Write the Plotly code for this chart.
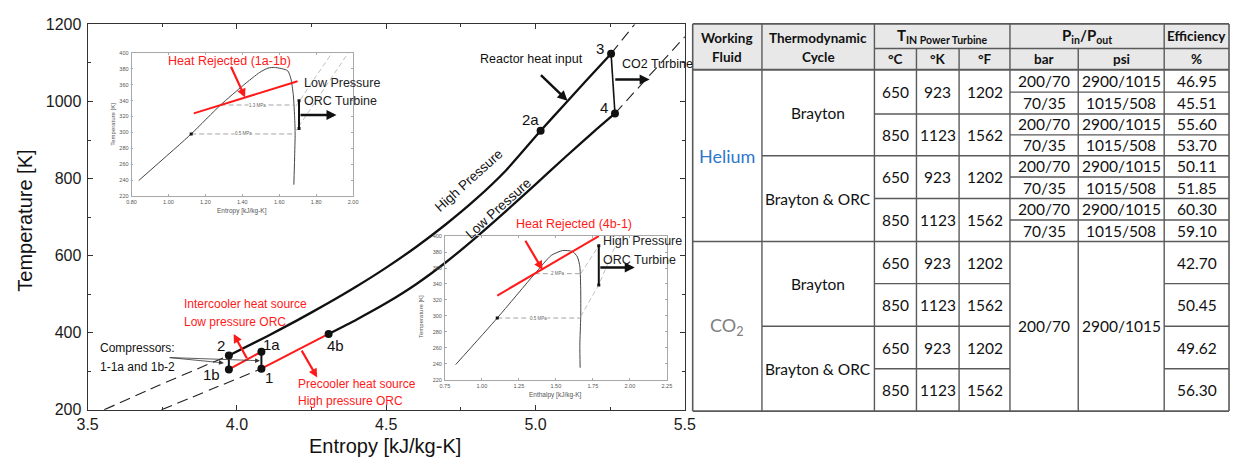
import plotly.graph_objects as go

W, H = 1241, 468
def PX(px): return px / W
def PY(py): return 1 - py / H

# ---------------- main T-s diagram data ----------------
high_s = [3.973, 4.10, 4.20, 4.30, 4.40, 4.50, 4.60, 4.70, 4.80, 4.90, 5.017, 5.10, 5.17, 5.253]
high_T = [341, 390.5, 431.5, 474.5, 520, 569, 622.5, 681.5, 746.5, 820.5, 924, 995, 1054.5, 1124]
low_s = [4.307, 4.40, 4.50, 4.60, 4.70, 4.80, 4.90, 5.00, 5.10, 5.20, 5.266]
low_T = [397, 434, 477, 526, 583, 647, 715, 785, 856, 925, 969]
hp_lo_s = [3.555, 3.737, 3.973]
hp_lo_T = [200, 263, 341]
hp_hi_s = [5.253, 5.340]
hp_hi_T = [1124, 1208]
lp_lo_s = [3.747, 3.910, 4.082]
lp_lo_T = [200, 252, 306.7]
lp_hi_s = [5.266, 5.500]
lp_hi_T = [969, 1168]
state_labels = ["1", "1a", "1b", "2", "2a", "3", "4", "4b"]
state_s = [4.082, 4.082, 3.973, 3.973, 5.017, 5.253, 5.266, 4.307]
state_T = [306.7, 350.8, 305.0, 341.0, 924.0, 1124.0, 969.0, 397.0]

# ---------------- inset 1 (low pressure ORC) ----------------
dome1_s = [0.839, 1.123, 1.282, 1.406, 1.495, 1.539, 1.575, 1.645, 1.663, 1.676, 1.684, 1.686, 1.683, 1.679]
dome1_T = [239.4, 298.0, 334.5, 359.5, 375.7, 381.0, 381.8, 377.8, 367.6, 347.4, 315.0, 298.9, 266.5, 234.1]
iso1_names = ["1.3 MPa", "0.5 MPa"]
iso1_s0 = [1.282, 1.123]
iso1_s1 = [1.681, 1.686]
iso1_T = [334.5, 298.0]
diag1_a_s = [1.681, 1.973]
diag1_a_T = [299, 400]
diag1_b_s = [1.690, 1.885]
diag1_b_T = [333, 400]
turb1_s = [1.707, 1.707]
turb1_T = [340, 305]
red1_s = [1.137, 1.699]
red1_T = [324, 364.4]

# ---------------- inset 2 (high pressure ORC) ----------------
dome2_s = [0.823, 1.104, 1.358, 1.469, 1.546, 1.613, 1.646, 1.662, 1.668, 1.668, 1.662, 1.664]
dome2_T = [238.9, 297.3, 352.9, 375.8, 381.9, 380.7, 373.8, 361.7, 331.5, 299.3, 263.0, 235.0]
iso2_names = ["2 MPa", "0.5 MPa"]
iso2_s0 = [1.358, 1.104]
iso2_s1 = [1.668, 1.668]
iso2_T = [352.9, 297.3]
diag2_a_s = [1.668, 1.790]
diag2_a_T = [352.9, 388]
diag2_b_s = [1.668, 1.790, 1.930]
diag2_b_T = [299.3, 339, 400]
turb2_s = [1.790, 1.790]
turb2_T = [388, 338.8]
red2_s = [1.104, 1.790]
red2_T = [325.5, 400]

# ---------------- table data ----------------
fluids = ["Helium", "CO<sub>2</sub>"]
fluid_colors = ["#2e78cc", "#808080"]
cycles = ["Brayton", "Brayton &amp; ORC", "Brayton", "Brayton &amp; ORC"]
t_c = [650, 850, 650, 850, 650, 850, 650, 850]
t_k = [923, 1123, 923, 1123, 923, 1123, 923, 1123]
t_f = [1202, 1562, 1202, 1562, 1202, 1562, 1202, 1562]
he_bar = ["200/70", "70/35", "200/70", "70/35", "200/70", "70/35", "200/70", "70/35"]
he_psi = ["2900/1015", "1015/508", "2900/1015", "1015/508", "2900/1015", "1015/508", "2900/1015", "1015/508"]
he_eff = ["46.95", "45.51", "55.60", "53.70", "50.11", "51.85", "60.30", "59.10"]
co2_bar = "200/70"
co2_psi = "2900/1015"
co2_eff = ["42.70", "50.45", "49.62", "56.30"]
header_top = ["<b>Working</b>", "<b>Thermodynamic</b>", "<b>T<sub>IN Power Turbine</sub></b>",
              "<b>P<sub>in</sub>/P<sub>out</sub></b>", "<b>Efficiency</b>"]
header_bottom = ["<b>Fluid</b>", "<b>Cycle</b>", "<b>°C</b>", "<b>°K</b>", "<b>°F</b>",
                 "<b>bar</b>", "<b>psi</b>", "<b>%</b>"]

# =====================================================================
fig = go.Figure()
BLACK = "#111111"
RED = "#ff1a1a"
FONT = "Liberation Sans, Arial, sans-serif"
TFONT = "Lato, Open Sans, sans-serif"

st = {n: (s, t) for n, s, t in zip(state_labels, state_s, state_T)}

def seg(a, b, color, width, xa="x", ya="y"):
    fig.add_trace(go.Scatter(x=[st[a][0], st[b][0]], y=[st[a][1], st[b][1]], mode="lines",
                             line=dict(color=color, width=width), xaxis=xa, yaxis=ya,
                             hoverinfo="skip", showlegend=False))

def line(xs, ys, color, width, dash=None, xa="x", ya="y", shape="linear"):
    fig.add_trace(go.Scatter(x=xs, y=ys, mode="lines",
                             line=dict(color=color, width=width, dash=dash, shape=shape, smoothing=0.6),
                             xaxis=xa, yaxis=ya, hoverinfo="skip", showlegend=False))

# dashed isobar extensions
for xs, ys in [(hp_lo_s, hp_lo_T), (hp_hi_s, hp_hi_T), (lp_lo_s, lp_lo_T), (lp_hi_s, lp_hi_T)]:
    line(xs, ys, "#222222", 1.1, dash="11px,6px", shape="spline")
# solid isobars
line(high_s, high_T, BLACK, 2.3, shape="spline")
line(low_s, low_T, BLACK, 2.3, shape="spline")
# process segments
seg("1b", "2", BLACK, 2.0)
seg("1", "1a", BLACK, 2.0)
seg("3", "4", BLACK, 1.6)
seg("1b", "1a", RED, 2.0)
seg("1", "4b", RED, 2.0)
fig.add_trace(go.Scatter(x=state_s, y=state_T, mode="markers",
                         marker=dict(color=BLACK, size=8), hoverinfo="skip", showlegend=False))

# inset 1
line(dome1_s, dome1_T, "#444444", 1.0, xa="x2", ya="y2", shape="spline")
for s0, s1, t in zip(iso1_s0, iso1_s1, iso1_T):
    line([s0, s1], [t, t], "#9a9a9a", 0.9, dash="5px,3px", xa="x2", ya="y2")
line(diag1_a_s, diag1_a_T, "#b0b0b0", 0.8, dash="5px,3px", xa="x2", ya="y2")
line(diag1_b_s, diag1_b_T, "#b0b0b0", 0.8, dash="5px,3px", xa="x2", ya="y2")
line(turb1_s, turb1_T, BLACK, 2.0, xa="x2", ya="y2")
fig.add_trace(go.Scatter(x=turb1_s + [iso1_s0[1]], y=turb1_T + [iso1_T[1]], mode="markers",
                         marker=dict(color=BLACK, size=3, symbol="square"), xaxis="x2", yaxis="y2",
                         hoverinfo="skip", showlegend=False))
line(red1_s, red1_T, RED, 2.0, xa="x2", ya="y2")

# inset 2
line(dome2_s, dome2_T, "#444444", 1.0, xa="x3", ya="y3", shape="spline")
for s0, s1, t in zip(iso2_s0, iso2_s1, iso2_T):
    line([s0, s1], [t, t], "#9a9a9a", 0.9, dash="5px,3px", xa="x3", ya="y3")
line(diag2_a_s, diag2_a_T, "#b0b0b0", 0.8, dash="5px,3px", xa="x3", ya="y3")
line(diag2_b_s, diag2_b_T, "#b0b0b0", 0.8, dash="5px,3px", xa="x3", ya="y3")
line(turb2_s, turb2_T, BLACK, 2.0, xa="x3", ya="y3")
fig.add_trace(go.Scatter(x=turb2_s + [iso2_s0[1]], y=turb2_T + [iso2_T[1]], mode="markers",
                         marker=dict(color=BLACK, size=3, symbol="square"), xaxis="x3", yaxis="y3",
                         hoverinfo="skip", showlegend=False))
line(red2_s, red2_T, RED, 2.0, xa="x3", ya="y3")

ann = []
def arrow(head, tail, color, width, xr="x", yr="y", size=1.0, head_style=2):
    ann.append(dict(x=head[0], y=head[1], ax=tail[0], ay=tail[1], xref=xr, yref=yr,
                    axref=xr, ayref=yr, text="", showarrow=True, arrowhead=head_style,
                    arrowsize=size, arrowwidth=width, arrowcolor=color, standoff=0, startstandoff=0))

def text(px, py, t, size=12, color=BLACK, xanchor="center", angle=0, family=FONT, bg=None):
    d = dict(x=PX(px), y=PY(py), xref="paper", yref="paper", text=t, showarrow=False,
             xanchor=xanchor, yanchor="middle", textangle=angle, borderpad=0,
             font=dict(family=family, size=size, color=color))
    if bg:
        d["bgcolor"] = bg
    ann.append(d)

# state point labels (offset in pixels)
label_shift = {"1": (8, -9), "1a": (10, 7), "1b": (-17, -5), "2": (-8, 10),
               "2a": (-10, 11), "3": (-11, 5), "4": (-11, 6), "4b": (7, -12)}
for n, s, t in zip(state_labels, state_s, state_T):
    dx, dy = label_shift[n]
    ann.append(dict(x=s, y=t, xref="x", yref="y", text=n, showarrow=False, xshift=dx, yshift=dy,
                    font=dict(family=FONT, size=15, color=BLACK)))

# main arrows
arrow((5.107, 1002), (5.013, 1072), BLACK, 2.5, size=0.8)
arrow((5.382, 1057), (5.262, 1057), BLACK, 2.5, size=0.8)
arrow((3.989, 397), (4.036, 330), RED, 2.2, size=0.8)
arrow((4.269, 284), (4.214, 357.5), RED, 2.2, size=0.8)
arrow((3.956, 321.8), (3.770, 335.8), "#333333", 0.8, size=1.2)
arrow((4.077, 327.5), (3.770, 335.8), "#333333", 0.8, size=1.2)
# inset arrows
arrow((1.415, 344), (1.335, 384.6), RED, 2.2, xr="x2", yr="y2", size=0.8)
arrow((1.91, 322), (1.707, 322), BLACK, 2.5, xr="x2", yr="y2", size=0.8)
arrow((1.41, 357.7), (1.288, 396), RED, 2.2, xr="x3", yr="y3", size=0.8)
arrow((2.033, 360.5), (1.79, 360.5), BLACK, 2.5, xr="x3", yr="y3", size=0.8)

# main texts
text(530, 53, "Reactor heat input", 12.5)
text(621, 58, "CO2 Turbine", 12.5, xanchor="left")
text(466, 179, "High Pressure", 13.5, angle=-42)
text(496, 208, "Low Pressure", 13.5, angle=-42)
text(175, 307, "Intercooler heat source", 12, RED, xanchor="left")
text(175, 326, "Low pressure ORC", 12, RED, xanchor="left")
text(90, 353, "Compressors:", 12, xanchor="left")
text(90, 373, "1-1a and 1b-2", 12, xanchor="left")
text(291, 390, "Precooler heat source", 12, RED, xanchor="left")
text(291, 408, "High pressure ORC", 12, RED, xanchor="left")
text(381, 455, "Entropy [kJ/kg-K]", 20)
text(14, 221, "Temperature [K]", 20, angle=-90)

# inset 1 texts
text(222, 55, "Heat Rejected (1a-1b)", 12.5, RED)
text(297, 78, "Low Pressure", 12.5, "#222222", xanchor="left")
text(297, 97, "ORC Turbine", 12.5, "#222222", xanchor="left")
text(103, 121, "Temperature [K]", 6, "#555555", angle=-90)
text(235, 211, "Entropy [kJ/kg-K]", 6.5, "#555555")
for nm, s0, s1, t in zip(iso1_names, iso1_s0, iso1_s1, iso1_T):
    ann.append(dict(x=(s0 + s1) / 2, y=t, xref="x2", yref="y2", text=nm, showarrow=False,
                    bgcolor="white", borderpad=0, font=dict(family=FONT, size=4.5, color="#666")))
# inset 2 texts
text(573, 224, "Heat Rejected (4b-1)", 12.5, RED)
text(602, 242, "High Pressure", 12.5, "#222222", xanchor="left")
text(602, 261, "ORC Turbine", 12.5, "#222222", xanchor="left")
text(418, 320, "Temperature [K]", 6, "#555555", angle=-90)
text(554, 402, "Enthalpy [kJ/kg-K]", 6.5, "#555555")
for nm, s0, s1, t in zip(iso2_names, iso2_s0, iso2_s1, iso2_T):
    ann.append(dict(x=(s0 + s1) / 2, y=t, xref="x3", yref="y3", text=nm, showarrow=False,
                    bgcolor="white", borderpad=0, font=dict(family=FONT, size=4.5, color="#666")))

# ---------------- table ----------------
shapes = []
LC = "#5a5a5a"
cols = [694, 764.5, 879, 921.8, 965.2, 1017, 1086.5, 1174, 1240]
top, hmid, hbot, bot = 16.5, 42, 64, 418.3
he_rows = [64, 87.3, 110, 131.7, 153.3, 175.3, 197.7, 220, 242.3]
co_rows = [242.3, 286, 330.3, 374.3, 418.3]

def hl(x0, x1, y, w=1.4):
    shapes.append(dict(type="line", xref="paper", yref="paper", x0=PX(x0), x1=PX(x1),
                       y0=PY(y), y1=PY(y), line=dict(color=LC, width=w)))
def vl(x, y0, y1, w=1.4):
    shapes.append(dict(type="line", xref="paper", yref="paper", x0=PX(x), x1=PX(x),
                       y0=PY(y0), y1=PY(y1), line=dict(color=LC, width=w)))

shapes.append(dict(type="rect", xref="paper", yref="paper", x0=PX(cols[0]), x1=PX(cols[-1]),
                   y0=PY(hbot), y1=PY(top), fillcolor="#e8e8e8", line=dict(width=0), layer="below"))
hl(cols[0], cols[-1], top, 1.8)
hl(cols[2], cols[-1], hmid)
hl(cols[0], cols[-1], hbot, 2.0)
hl(cols[0], cols[-1], bot, 1.8)
hl(cols[0], cols[-1], he_rows[-1], 1.6)
for c in [cols[0], cols[1], cols[2], cols[5], cols[7], cols[-1]]:
    vl(c, top, bot, 1.6 if c in (cols[0], cols[-1]) else 1.4)
for c in [cols[3], cols[4], cols[6]]:
    vl(c, hmid, bot)
# helium internal lines
for i, y in enumerate(he_rows[1:-1], start=1):
    if i == 4:
        hl(cols[1], cols[-1], y)
    elif i % 2 == 0:
        hl(cols[2], cols[-1], y)
    else:
        hl(cols[5], cols[-1], y)
# co2 internal lines
for i, y in enumerate(co_rows[1:-1], start=1):
    hl(cols[1] if i == 2 else cols[2], cols[5], y)
    hl(cols[7], cols[-1], y)

def cx(i): return (cols[i] + cols[i + 1]) / 2
def mid(a, b): return (a + b) / 2

# header text
text(cx(0), 31.5, header_top[0], 13.5, family=TFONT)
text(cx(1), 31.5, header_top[1], 13.5, family=TFONT)
text((cols[2] + cols[5]) / 2, 29.5, header_top[2], 15, family=TFONT)
text((cols[5] + cols[7]) / 2, 29.5, header_top[3], 15, family=TFONT)
text(cx(7), 29.5, header_top[4], 13.5, family=TFONT)
text(cx(0), 51, header_bottom[0], 13.5, family=TFONT)
text(cx(1), 51, header_bottom[1], 13.5, family=TFONT)
for j, h in enumerate(header_bottom[2:]):
    text(cx(2 + j), 53, h, 13.5, family=TFONT)

DS = 15.5
# helium block
text(cx(0), mid(he_rows[0], he_rows[-1]), fluids[0], 18, fluid_colors[0], family=TFONT)
text(cx(1), mid(he_rows[0], he_rows[4]), cycles[0], DS, family=TFONT)
text(cx(1), mid(he_rows[4], he_rows[8]), cycles[1], DS, family=TFONT)
for k in range(4):
    yc = mid(he_rows[2 * k], he_rows[2 * k + 2])
    text(cx(2), yc, str(t_c[k]), DS, family=TFONT)
    text(cx(3), yc, str(t_k[k]), DS, family=TFONT)
    text(cx(4), yc, str(t_f[k]), DS, family=TFONT)
for r in range(8):
    yc = mid(he_rows[r], he_rows[r + 1])
    text(cx(5), yc, he_bar[r], DS, family=TFONT)
    text(cx(6), yc, he_psi[r], DS, family=TFONT)
    text(cx(7), yc, he_eff[r], DS, family=TFONT)
# co2 block
text(cx(0), mid(co_rows[0], co_rows[-1]), fluids[1], 18, fluid_colors[1], family=TFONT)
text(cx(1), mid(co_rows[0], co_rows[2]), cycles[2], DS, family=TFONT)
text(cx(1), mid(co_rows[2], co_rows[4]), cycles[3], DS, family=TFONT)
text(cx(5), mid(co_rows[0], co_rows[-1]), co2_bar, DS, family=TFONT)
text(cx(6), mid(co_rows[0], co_rows[-1]), co2_psi, DS, family=TFONT)
for r in range(4):
    yc = mid(co_rows[r], co_rows[r + 1])
    text(cx(2), yc, str(t_c[4 + r]), DS, family=TFONT)
    text(cx(3), yc, str(t_k[4 + r]), DS, family=TFONT)
    text(cx(4), yc, str(t_f[4 + r]), DS, family=TFONT)
    text(cx(7), yc, co2_eff[r], DS, family=TFONT)

# ---------------- axes ----------------
main_ax = dict(showgrid=False, zeroline=False, showline=True, linecolor="#333333", linewidth=1,
               mirror="ticks", ticks="inside", ticklen=5, tickcolor="#333333",
               tickfont=dict(family=FONT, size=16, color="#1a1a1a"))
inset_ax = dict(showgrid=False, zeroline=False, showline=True, linecolor="#a8a8a8", linewidth=0.8,
                mirror="ticks", ticks="inside", ticklen=2, tickcolor="#a8a8a8",
                tickfont=dict(family=FONT, size=5.5, color="#555555"), ticklabelstandoff=1)

fig.update_layout(
    width=W, height=H, autosize=False, margin=dict(l=0, r=0, t=0, b=0),
    paper_bgcolor="white", plot_bgcolor="rgba(0,0,0,0)", showlegend=False,
    xaxis=dict(main_ax, domain=[PX(78), PX(686)], range=[3.5, 5.5],
               tickvals=[3.5, 4.0, 4.5, 5.0, 5.5], ticktext=["3.5", "4.0", "4.5", "5.0", "5.5"],
               minor=dict(dtick=0.25, tick0=3.5, ticks="inside", ticklen=3, tickcolor="#333333"),
               anchor="y"),
    yaxis=dict(main_ax, domain=[PY(417), PY(17)], range=[200, 1200], dtick=200, tick0=200,
               minor=dict(dtick=100, tick0=200, ticks="inside", ticklen=3, tickcolor="#333333"),
               anchor="x", ticklabelstandoff=2),
    xaxis2=dict(inset_ax, domain=[PX(122.7), PX(348.3)], range=[0.8, 2.0], dtick=0.2, tick0=0.8,
                tickformat=".2f", anchor="y2"),
    yaxis2=dict(inset_ax, domain=[PY(195), PY(46.7)], range=[220, 400], dtick=20, tick0=220, anchor="x2"),
    xaxis3=dict(inset_ax, domain=[PX(441.7), PX(667.7)], range=[0.75, 2.25], dtick=0.25, tick0=0.75,
                tickformat=".2f", anchor="y3"),
    yaxis3=dict(inset_ax, domain=[PY(385.7), PY(236.7)], range=[220, 400], dtick=20, tick0=220, anchor="x3"),
    annotations=ann, shapes=shapes,
)

fig.write_html("out.html")
